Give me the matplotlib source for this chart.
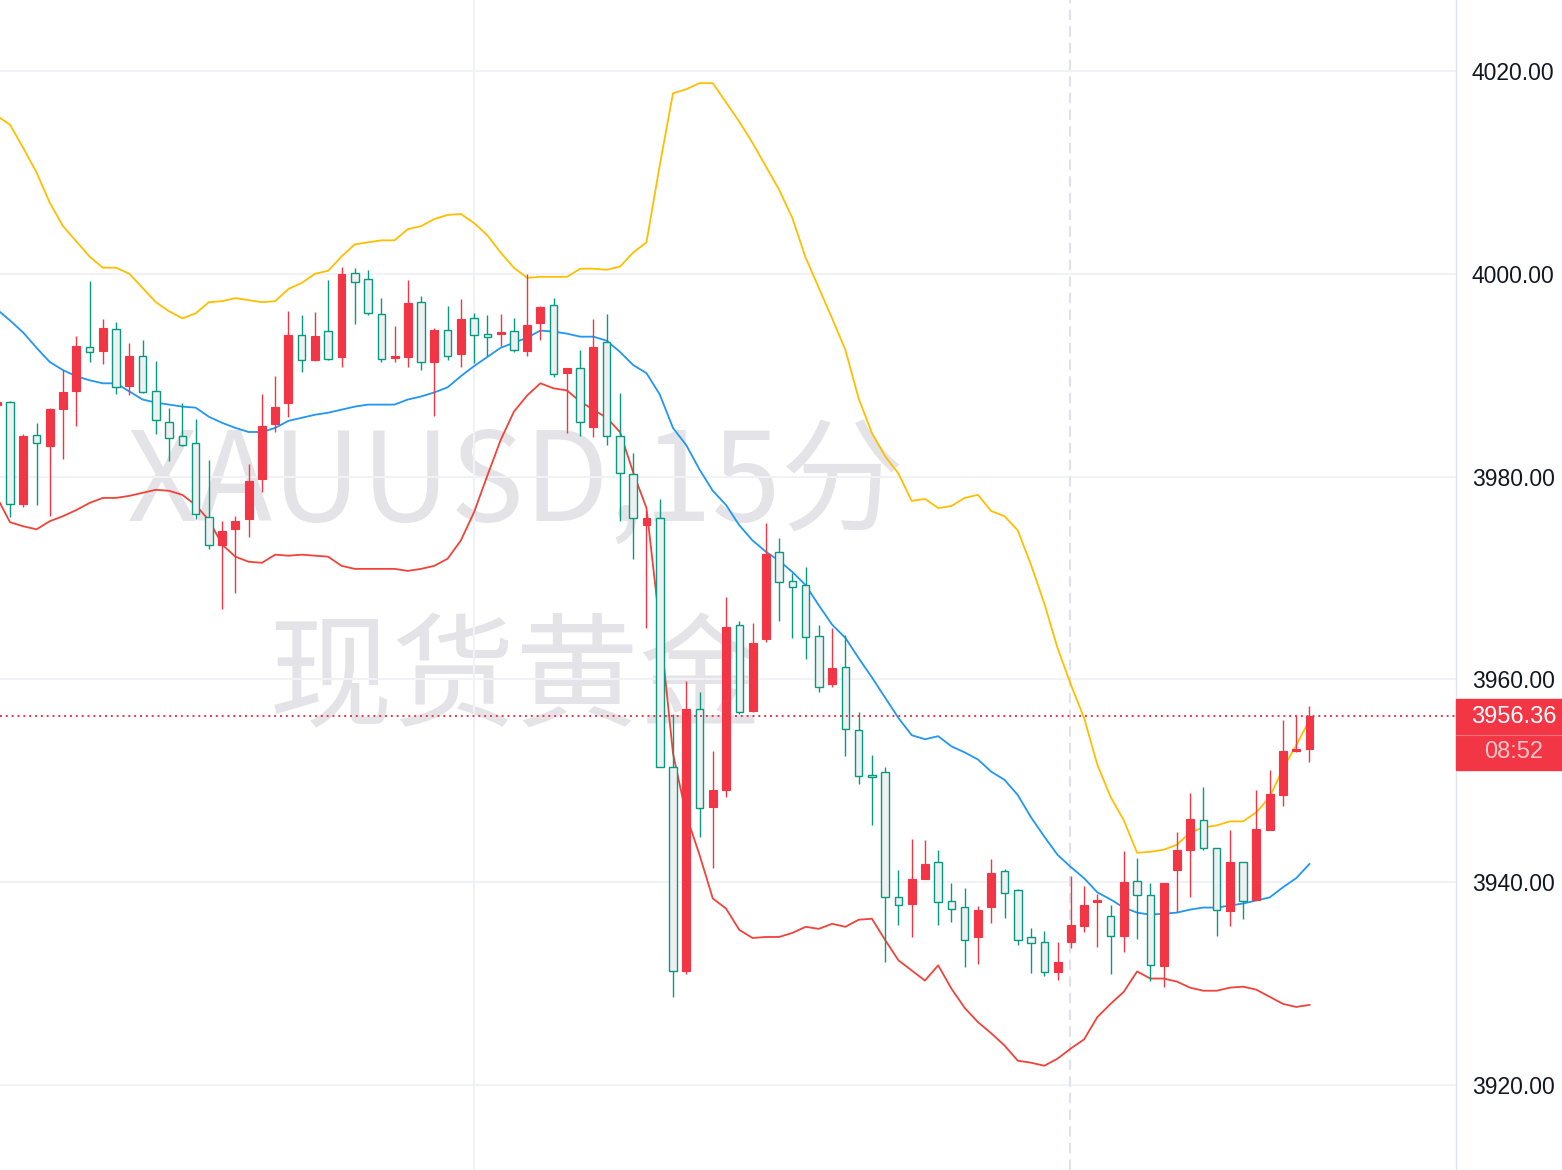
import numpy as np
import matplotlib
matplotlib.use('Agg')
import matplotlib.pyplot as plt
from matplotlib.patches import Rectangle

plt.rcParams['font.family'] = ['Liberation Sans', 'DejaVu Sans']

# XAUUSD 15 min candles, first one is cut off at the left edge
opens = [3987.1,
         3987.4, 3977.3, 3984.1, 3983.0, 3986.7, 3988.4, 3992.8, 3992.35, 3994.6, 3988.9,
         3991.9, 3988.4, 3985.35, 3984.0, 3983.3, 3976.0, 3973.3, 3974.85, 3975.8, 3979.8,
         3985.2, 3987.25, 3994.0, 3991.5, 3994.35, 3991.75, 4000.1, 3999.5, 3996.0, 3991.7,
         3991.8, 3997.2, 3991.3, 3994.5, 3992.05, 3995.6, 3994.1, 3994.1, 3994.4, 3992.4,
         3995.15, 3996.9, 3990.2, 3990.7, 3984.9, 3993.3, 3984.0, 3980.3, 3975.2, 3975.9,
         3951.4, 3931.2, 3957.1, 3947.45, 3949.1, 3965.35, 3956.9, 3964.0, 3972.55, 3969.7,
         3969.3, 3964.3, 3959.5, 3961.25, 3955.0, 3950.6, 3950.9, 3938.55, 3937.9, 3940.35,
         3942.0, 3938.1, 3937.6, 3934.55, 3937.6, 3941.1, 3939.25, 3934.55, 3934.1, 3931.1,
         3934.1, 3935.7, 3938.0, 3936.7, 3934.7, 3940.1, 3938.7, 3931.7, 3941.2, 3943.2,
         3946.15, 3943.35, 3937.2, 3942.0, 3938.25, 3945.15, 3948.6, 3952.9, 3953.1]
highs = [3987.5,
         3987.5, 3984.2, 3985.3, 3986.8, 3990.5, 3993.9, 3999.3, 3995.5, 3995.2, 3993.2,
         3993.5, 3991.4, 3986.8, 3987.3, 3985.7, 3981.6, 3975.6, 3976.1, 3981.2, 3988.1,
         3989.9, 3996.3, 3995.9, 3996.2, 3999.4, 4000.7, 4000.6, 4000.4, 3997.6, 3994.9,
         3999.4, 3997.8, 3994.65, 3996.85, 3997.5, 3996.1, 3995.9, 3996.0, 3995.6, 4000.0,
         3996.8, 3997.6, 3990.7, 3992.5, 3995.5, 3996.0, 3988.25, 3982.3, 3976.6, 3977.8,
         3956.6, 3959.8, 3958.8, 3952.9, 3968.1, 3965.8, 3965.6, 3975.4, 3973.95, 3970.5,
         3971.1, 3965.4, 3965.1, 3964.4, 3956.8, 3952.5, 3951.4, 3941.2, 3944.25, 3944.15,
         3943.2, 3939.9, 3939.4, 3937.7, 3942.3, 3941.3, 3939.3, 3935.5, 3935.15, 3934.1,
         3940.6, 3939.6, 3938.8, 3937.8, 3943.05, 3942.4, 3939.9, 3939.9, 3945.0, 3948.8,
         3949.4, 3943.4, 3945.1, 3942.0, 3949.1, 3951.1, 3956.0, 3956.45, 3957.4]
lows = [3986.9,
        3976.0, 3977.0, 3977.2, 3976.1, 3981.7, 3985.0, 3991.3, 3991.1, 3988.1, 3988.0,
        3988.25, 3984.2, 3981.5, 3983.0, 3975.8, 3972.9, 3966.97, 3968.5, 3974.0, 3978.5,
        3984.4, 3985.9, 3990.3, 3991.4, 3991.5, 3990.8, 3995.0, 3995.9, 3991.3, 3991.3,
        3990.8, 3990.5, 3986.0, 3991.5, 3990.8, 3991.2, 3991.9, 3992.9, 3992.25, 3991.9,
        3993.5, 3989.8, 3984.3, 3984.0, 3983.9, 3983.15, 3975.6, 3971.9, 3965.1, 3951.4,
        3928.7, 3930.9, 3944.5, 3941.4, 3948.4, 3956.55, 3956.8, 3963.7, 3965.75, 3964.1,
        3962.0, 3958.8, 3959.25, 3952.45, 3949.7, 3945.65, 3932.15, 3935.8, 3934.6, 3940.3,
        3935.8, 3936.1, 3931.6, 3931.9, 3936.0, 3936.5, 3933.8, 3931.0, 3930.8, 3930.4,
        3933.5, 3935.05, 3933.6, 3930.9, 3933.1, 3934.4, 3930.3, 3929.7, 3937.1, 3938.5,
        3943.2, 3934.65, 3935.7, 3936.35, 3938.2, 3945.1, 3947.5, 3952.8, 3951.9]
closes = [3987.4,
          3977.3, 3984.0, 3983.3, 3986.7, 3988.35, 3992.9, 3992.3, 3994.65, 3988.8, 3991.9,
          3988.35, 3985.6, 3983.8, 3983.15, 3976.3, 3973.3, 3974.6, 3975.6, 3979.6, 3985.0,
          3986.9, 3994.0, 3991.5, 3993.9, 3991.6, 4000.0, 3999.2, 3996.1, 3991.6, 3991.8,
          3997.1, 3991.3, 3994.5, 3991.9, 3995.5, 3994.0, 3993.8, 3994.3, 3992.45, 3994.95,
          3996.7, 3990.15, 3990.7, 3985.4, 3992.8, 3984.0, 3980.4, 3975.9, 3975.9, 3951.4,
          3931.2, 3957.1, 3947.3, 3949.1, 3965.2, 3956.75, 3963.55, 3972.4, 3969.65, 3969.1,
          3964.2, 3959.3, 3961.15, 3955.1, 3950.5, 3950.4, 3938.55, 3937.8, 3940.35, 3941.8,
          3938.05, 3937.4, 3934.3, 3937.3, 3940.9, 3938.9, 3934.3, 3934.0, 3931.1, 3932.1,
          3935.8, 3937.8, 3938.1, 3934.7, 3940.0, 3938.7, 3931.8, 3939.9, 3943.15, 3946.2,
          3943.35, 3937.3, 3941.95, 3938.1, 3945.2, 3948.7, 3952.95, 3953.0, 3956.36]

# Bollinger bands (upper / basis / lower)
bb_upper = [4015.6,
            4014.7, 4012.4, 4010.0, 4007.0, 4004.7, 4003.2, 4001.7, 4000.6, 4000.6, 4000.0,
            3998.6, 3997.2, 3996.3, 3995.6, 3996.1, 3997.2, 3997.3, 3997.6, 3997.4, 3997.2,
            3997.3, 3998.5, 3999.1, 4000.0, 4000.3, 4001.7, 4002.9, 4003.1, 4003.3, 4003.3,
            4004.4, 4004.7, 4005.4, 4005.8, 4005.9, 4005.0, 4003.8, 4002.1, 4000.6, 3999.6,
            3999.7, 3999.7, 3999.7, 4000.5, 4000.5, 4000.4, 4000.7, 4002.1, 4003.1, 4010.7,
            4017.8, 4018.2, 4018.8, 4018.8, 4016.9, 4015.0, 4012.9, 4010.6, 4008.3, 4005.5,
            4001.6, 3998.6, 3995.6, 3992.5, 3987.7, 3984.3, 3982.0, 3980.3, 3977.6, 3977.8,
            3976.9, 3977.1, 3977.9, 3978.2, 3976.6, 3976.1, 3974.7, 3971.3, 3967.5, 3963.1,
            3959.5, 3956.2, 3951.6, 3948.4, 3946.1, 3942.9, 3943.0, 3943.2, 3943.7, 3944.9,
            3945.4, 3945.6, 3946.0, 3946.0, 3946.9, 3948.4, 3951.2, 3953.5, 3956.0]
bb_basis = [3996.5,
            3995.4, 3994.2, 3992.7, 3991.3, 3990.5, 3989.9, 3989.5, 3989.2, 3989.2, 3988.4,
            3987.6, 3987.3, 3987.1, 3986.9, 3986.8, 3985.9, 3985.3, 3984.8, 3984.4, 3984.4,
            3984.8, 3985.5, 3985.8, 3986.1, 3986.3, 3986.6, 3986.9, 3987.1, 3987.1, 3987.1,
            3987.6, 3987.9, 3988.3, 3988.8, 3989.9, 3990.9, 3991.8, 3992.7, 3993.2, 3993.7,
            3994.4, 3994.3, 3994.1, 3993.8, 3993.8, 3993.4, 3992.3, 3991.0, 3990.2, 3988.1,
            3984.8, 3983.1, 3980.7, 3978.6, 3977.2, 3975.2, 3973.7, 3972.6, 3971.7, 3970.6,
            3969.3, 3967.3, 3965.4, 3964.1, 3962.1, 3960.2, 3958.2, 3956.2, 3954.5, 3954.1,
            3954.4, 3953.4, 3952.8, 3952.1, 3950.9, 3950.1, 3948.6, 3946.4, 3944.5, 3942.7,
            3941.5, 3940.4, 3939.0, 3938.3, 3937.5, 3937.0, 3936.8, 3936.9, 3937.0, 3937.3,
            3937.5, 3937.5, 3937.7, 3937.9, 3938.2, 3938.5, 3939.5, 3940.4, 3941.8]
bb_lower = [3978.0,
            3975.5, 3975.1, 3974.8, 3975.6, 3976.1, 3976.7, 3977.4, 3977.9, 3977.9, 3978.1,
            3978.4, 3978.7, 3978.6, 3978.2, 3977.2, 3975.7, 3973.3, 3972.1, 3971.6, 3971.5,
            3972.3, 3972.2, 3972.3, 3972.2, 3972.1, 3971.2, 3970.9, 3970.9, 3970.9, 3970.9,
            3970.7, 3970.9, 3971.2, 3971.9, 3973.7, 3976.5, 3980.1, 3983.6, 3986.4, 3988.0,
            3989.2, 3988.7, 3988.5, 3987.4, 3986.6, 3985.8, 3984.4, 3980.4, 3976.9, 3965.4,
            3952.7, 3946.6, 3942.7, 3938.4, 3937.4, 3935.3, 3934.5, 3934.6, 3934.6, 3935.0,
            3935.6, 3935.4, 3935.9, 3935.6, 3936.3, 3936.4, 3934.3, 3932.3, 3931.3, 3930.3,
            3931.8, 3929.5, 3927.6, 3926.2, 3925.1, 3923.9, 3922.4, 3922.2, 3921.9, 3922.6,
            3923.6, 3924.5, 3926.7, 3928.0, 3929.2, 3931.2, 3930.5, 3930.5, 3930.2, 3929.6,
            3929.3, 3929.3, 3929.6, 3929.7, 3929.4, 3928.7, 3928.0, 3927.7, 3927.9]

price_ticks = [3920, 3940, 3960, 3980, 4000, 4020]
last_price = 3956.36
countdown = '08:52'
watermark1 = 'XAUUSD,15分'
watermark2 = '现货黄金'

RED = '#f23645'
GREEN = '#089981'
W, H = 1562, 1170
AX_W = 1456

o = np.array(opens)
h = np.array(highs)
l = np.array(lows)
c = np.array(closes)
x = np.arange(len(o)) - 1
up = c >= o

fig = plt.figure(figsize=(W / 100, H / 100), dpi=100)
ax = fig.add_axes([0, 0, AX_W / W, 1])

# grid
for t in price_ticks:
    ax.axhline(t, color='#f0f2f6', lw=1.5, zorder=0.8)
ax.axvline(35, color='#f0f2f6', lw=1.5, zorder=0.8)
ax.axvline(79.95, color='#dfe2ea', lw=1.5, ls=(0, (5, 3)), zorder=0.8)

# watermark
ax.text(516 / AX_W, 1 - 486 / H, watermark1, transform=ax.transAxes, ha='center', va='center',
        fontsize=89, family=['Noto Sans CJK SC'], color='#e4e4e8', zorder=0.5)
ax.text(516 / AX_W, 1 - 682 / H, watermark2, transform=ax.transAxes, ha='center', va='center',
        fontsize=89, family=['Noto Sans CJK SC'], color='#e4e4e8', zorder=0.5)

# bollinger bands
ax.plot(x, bb_upper, color='#ffbf00', lw=1.3, zorder=2)
ax.plot(x, bb_basis, color='#2196f3', lw=1.3, zorder=2)
ax.plot(x, bb_lower, color='#f0433a', lw=1.3, zorder=2)

# candles
cols = np.where(up, RED, GREEN)
ax.vlines(x, l, h, colors=cols, lw=1.0, zorder=3)
bottom = np.minimum(o, c)
height = np.maximum(np.abs(c - o), 0.2)
ax.bar(x[up], height[up], bottom=bottom[up], width=0.6, color=RED, edgecolor=RED, lw=0.8, zorder=4)
ax.bar(x[~up], height[~up], bottom=bottom[~up], width=0.57, facecolor='#eff0f2',
       edgecolor=GREEN, lw=1.0, zorder=4)

# last price line
ax.axhline(last_price, color=RED, lw=1.4, ls=(0, (1, 2)), zorder=5)

ax.set_xlim(-10 / 13.26, (AX_W - 10) / 13.26)
ax.set_ylim(3911.62, 4027.0)
ax.set_xticks([])
ax.yaxis.tick_right()
ax.set_yticks(price_ticks)
ax.yaxis.set_major_formatter('{x:.2f}')
ax.tick_params(axis='y', length=0, pad=11.5, labelsize=16.5, labelcolor='#131722')
for s in ['top', 'left', 'bottom']:
    ax.spines[s].set_visible(False)
ax.spines['right'].set_color('#e0e3eb')
ax.spines['right'].set_linewidth(1.0)

# price tag on the axis
fig.add_artist(Rectangle((AX_W / W, 1 - 770 / H), (W - AX_W) / W, 71 / H,
                         transform=fig.transFigure, color=RED, zorder=10))
fig.add_artist(plt.Line2D([AX_W / W, 1], [1 - 734.5 / H] * 2, transform=fig.transFigure,
                          color='#f5707c', lw=0.8, zorder=11))
fig.text(1514 / W, 1 - 717 / H, f'{last_price:.2f}', ha='center', va='center',
         fontsize=17, color='white', zorder=12)
fig.text(1514 / W, 1 - 752 / H, countdown, ha='center', va='center',
         fontsize=17, color='#fcc5ca', zorder=12)

fig.savefig('out.png', dpi=100)
